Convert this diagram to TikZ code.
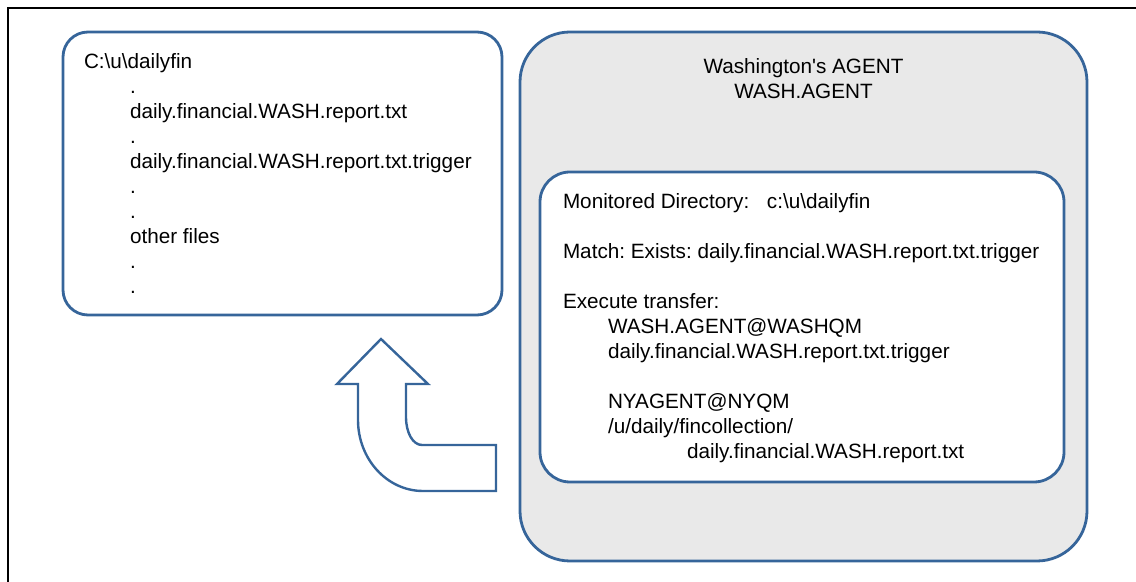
\documentclass[tikz,border=0pt]{standalone}
\usepackage{fontspec}
\setmainfont{Liberation Sans}
\usetikzlibrary{positioning}
\definecolor{AgentBlue}{HTML}{36659A}
\definecolor{AgentGrey}{HTML}{E9E9E9}
\frenchspacing

\begin{document}
\begin{tikzpicture}[
    x=0.5pt, y=-0.5pt,
    font=\fontsize{10.35}{12.5}\selectfont,
    dirbox/.style={draw=AgentBlue, fill=white, line width=1.4pt, inner sep=0pt},
    agentbox/.style={draw=AgentBlue, fill=AgentGrey, line width=1.4pt, inner sep=0pt, rounded corners=25pt},
    boxtext/.style={inner sep=0pt, align=left},
    bendarrow/.style={draw=AgentBlue, fill=white, line width=1.2pt, line join=miter},
    frame/.style={draw=black, line width=0.8pt}
  ]
    \useasboundingbox (0,0) rectangle (1136,582);
    \draw[frame] (8,582) -- (8,8) -- (1136,8);

    \node[dirbox, rounded corners=12.5pt, minimum width=219.5pt, minimum height=141.5pt] (files) at (282.5,173.5) {};
    \node[agentbox, minimum width=283.5pt, minimum height=264.5pt] (agent) at (803.5,296.5) {};
    \node[dirbox, rounded corners=15pt, minimum width=262pt, minimum height=155pt] (monitor) at (802,327) {};

    \node[boxtext, below right=11.5pt and 11pt of files.north west] (filelist)
      {C:\textbackslash u\textbackslash dailyfin\\
       \hspace*{23pt}.\\
       \hspace*{23pt}daily.financial.WASH.report.txt\\
       \hspace*{23pt}.\\
       \hspace*{23pt}daily.financial.WASH.report.txt.trigger\\
       \hspace*{23pt}.\\
       \hspace*{23pt}.\\
       \hspace*{23pt}other files\\
       \hspace*{23pt}.\\
       \hspace*{23pt}.};
    \node[boxtext, align=center, below=14pt of agent.north] (agentname)
      {Washington\textquotesingle s AGENT\\WASH.AGENT};
    \node[boxtext, below right=11.5pt and 12pt of monitor.north west] (rules)
      {\makebox[102pt][l]{Monitored Directory:}c:\textbackslash u\textbackslash dailyfin\\[12.5pt]
       Match: Exists: daily.financial.WASH.report.txt.trigger\\[12.5pt]
       Execute transfer:\\
       \hspace*{22.5pt}WASH.AGENT@WASHQM\\
       \hspace*{22.5pt}daily.financial.WASH.report.txt.trigger\\[12.5pt]
       \hspace*{22.5pt}NYAGENT@NYQM\\
       \hspace*{22.5pt}/u/daily/fincollection/\\
       \hspace*{62pt}daily.financial.WASH.report.txt};

    % bent block arrow, back to the directory
    \draw[bendarrow] (381,339) -- (428,384) -- (406,384) -- (406,417)
      .. controls (406,433) and (413,445) .. (422,445) -- (496,445) -- (496,491) -- (423,491)
      .. controls (387,491) and (358,459) .. (358,420) -- (358,384) -- (337,384) -- cycle;
\end{tikzpicture}
\end{document}
